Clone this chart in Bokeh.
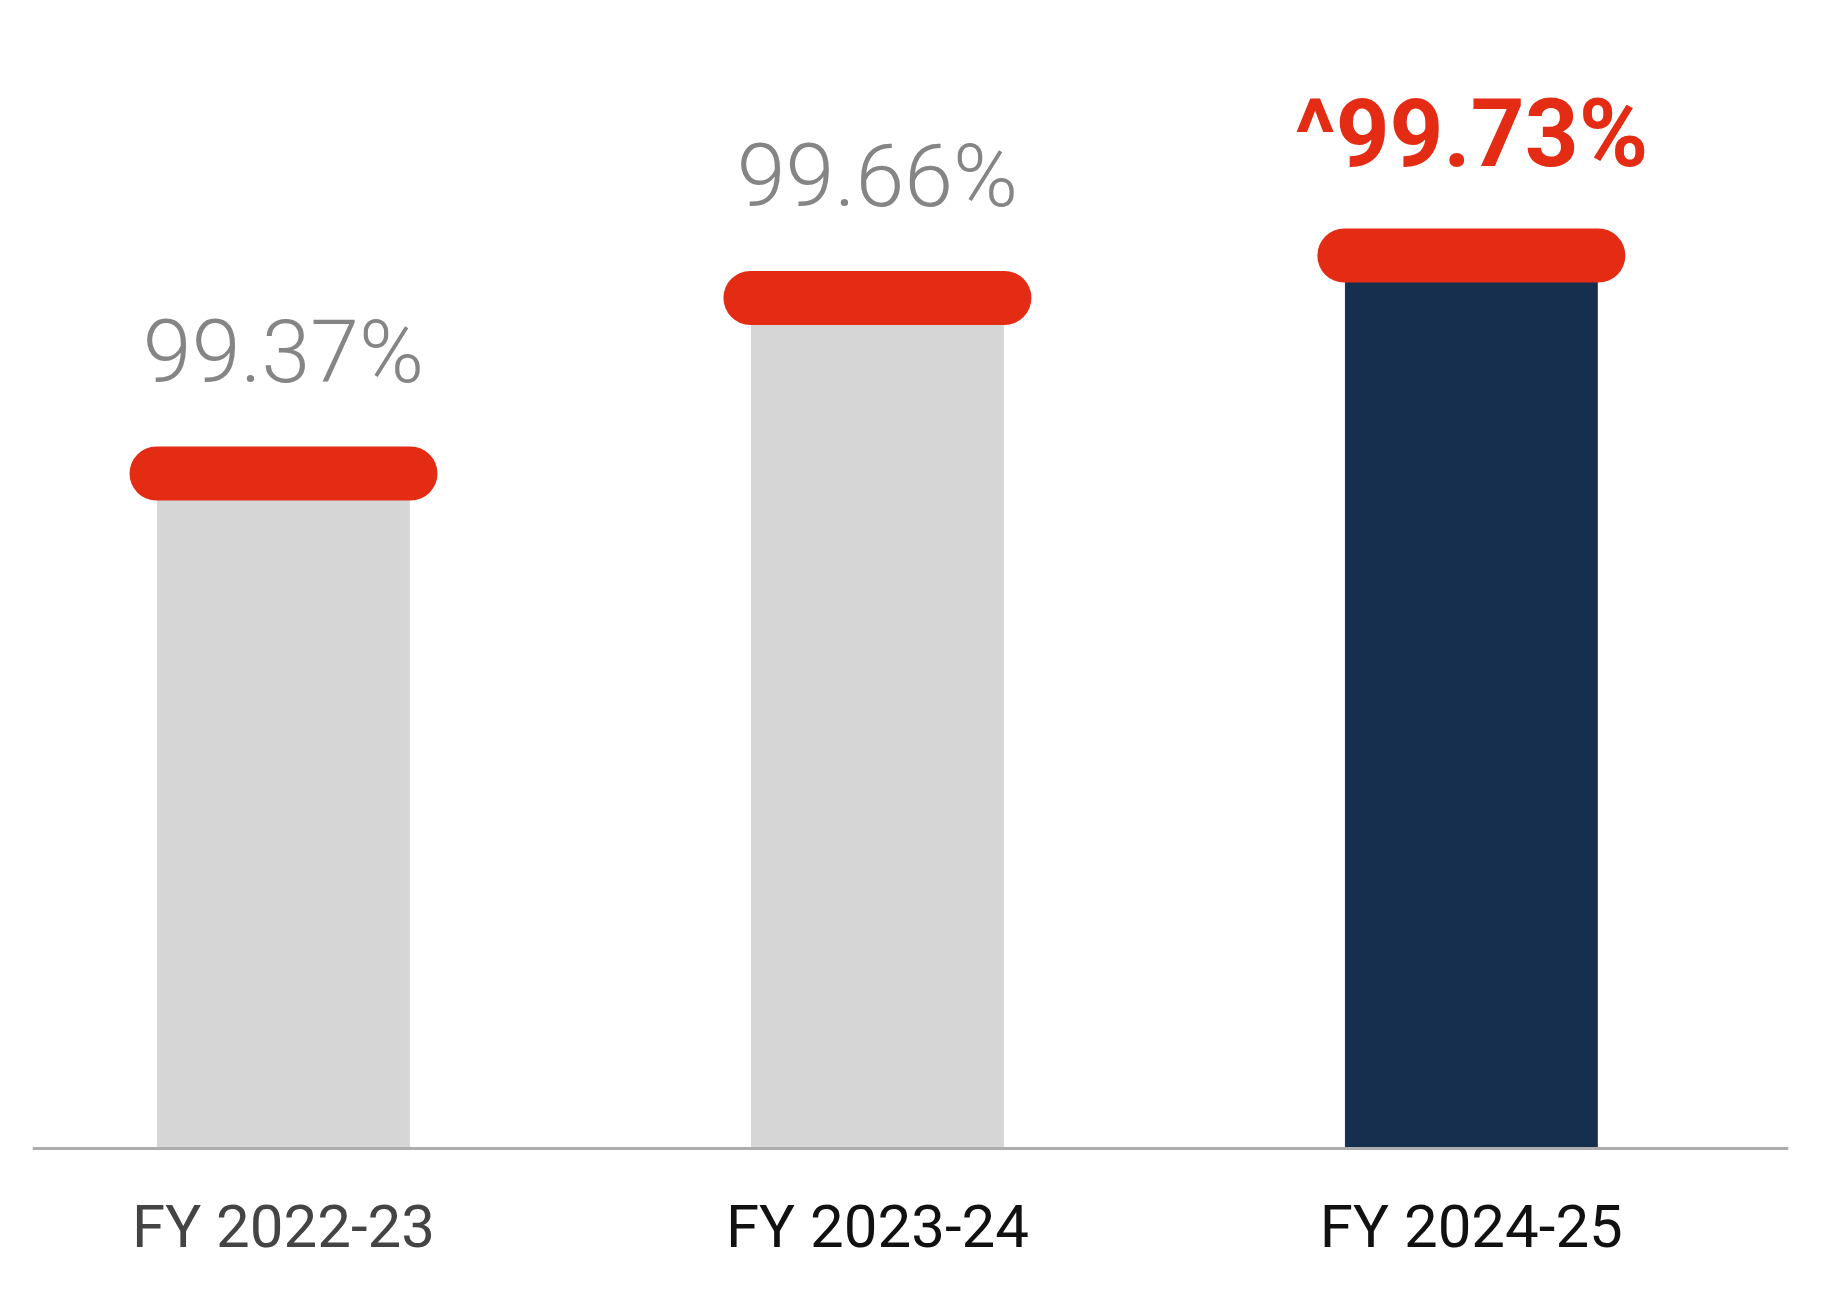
from bokeh.plotting import figure
from bokeh.models import ColumnDataSource, Range1d, Span
from bokeh.core.properties import value
from bokeh.embed import file_html
from bokeh.resources import INLINE

# ---- data ----
categories = ["FY 2022-23", "FY 2023-24", "FY 2024-25"]
values = [99.37, 99.66, 99.73]
value_labels = ["99.37%", "99.66%", "^99.73%"]

# ---- styles ----
bar_colors = ["#D6D6D6", "#D6D6D6", "#172F4E"]
label_colors = ["#858585", "#858585", "#E42B14"]
label_styles = ["normal", "normal", "bold"]
label_fonts = ["Roboto Light", "Roboto Light", "Roboto"]
label_sizes = ["88px", "88px", "94px"]
cat_colors = ["#444444", "#111111", "#111111"]
RED = "#E42B14"

W, H = 1824, 1300
baseline = 98.2553  # value at the axis line
y_start, y_end = 98.0109 - 4 / 605.5, 100.1380 + 8 / 605.5

xs = list(range(len(categories)))
src = ColumnDataSource(dict(
    x=xs, v=values, lab=value_labels, cat=categories,
    bar_color=bar_colors, lab_color=label_colors, lab_style=label_styles,
    lab_font=label_fonts, lab_size=label_sizes, cat_color=cat_colors,
))

p = figure(width=W, height=H, output_backend="svg", toolbar_location=None,
           x_range=Range1d(-0.4226, 2.534), y_range=Range1d(y_start, y_end),
           min_border_left=32, min_border_right=36, min_border_top=0, min_border_bottom=0)
p.xaxis.visible = False
p.yaxis.visible = False
p.xgrid.visible = False
p.ygrid.visible = False
p.outline_line_color = None
p.background_fill_color = "white"
p.border_fill_color = "white"

p.vbar(x="x", top="v", bottom=baseline, width=0.424, color="bar_color", source=src)
p.rect(x="x", y="v", width=308, height=54, width_units="screen", height_units="screen",
       fill_color=RED, line_color=None, border_radius=27, source=src)

p.add_layout(Span(location=baseline, dimension="width", line_color="#ADADAD", line_width=3))

p.text(x="x", y="v", text="lab", text_color="lab_color", text_font_style="lab_style",
       text_font="lab_font", text_font_size="lab_size", text_align="center",
       text_baseline="alphabetic", y_offset=-122, source=src)

p.text(x="x", y=baseline, text="cat", text_color="cat_color",
       text_font=value("Roboto"), text_font_size="60px", text_align="center",
       text_baseline="alphabetic", y_offset=78, source=src)

open("out.html", "w").write(file_html(p, INLINE))
